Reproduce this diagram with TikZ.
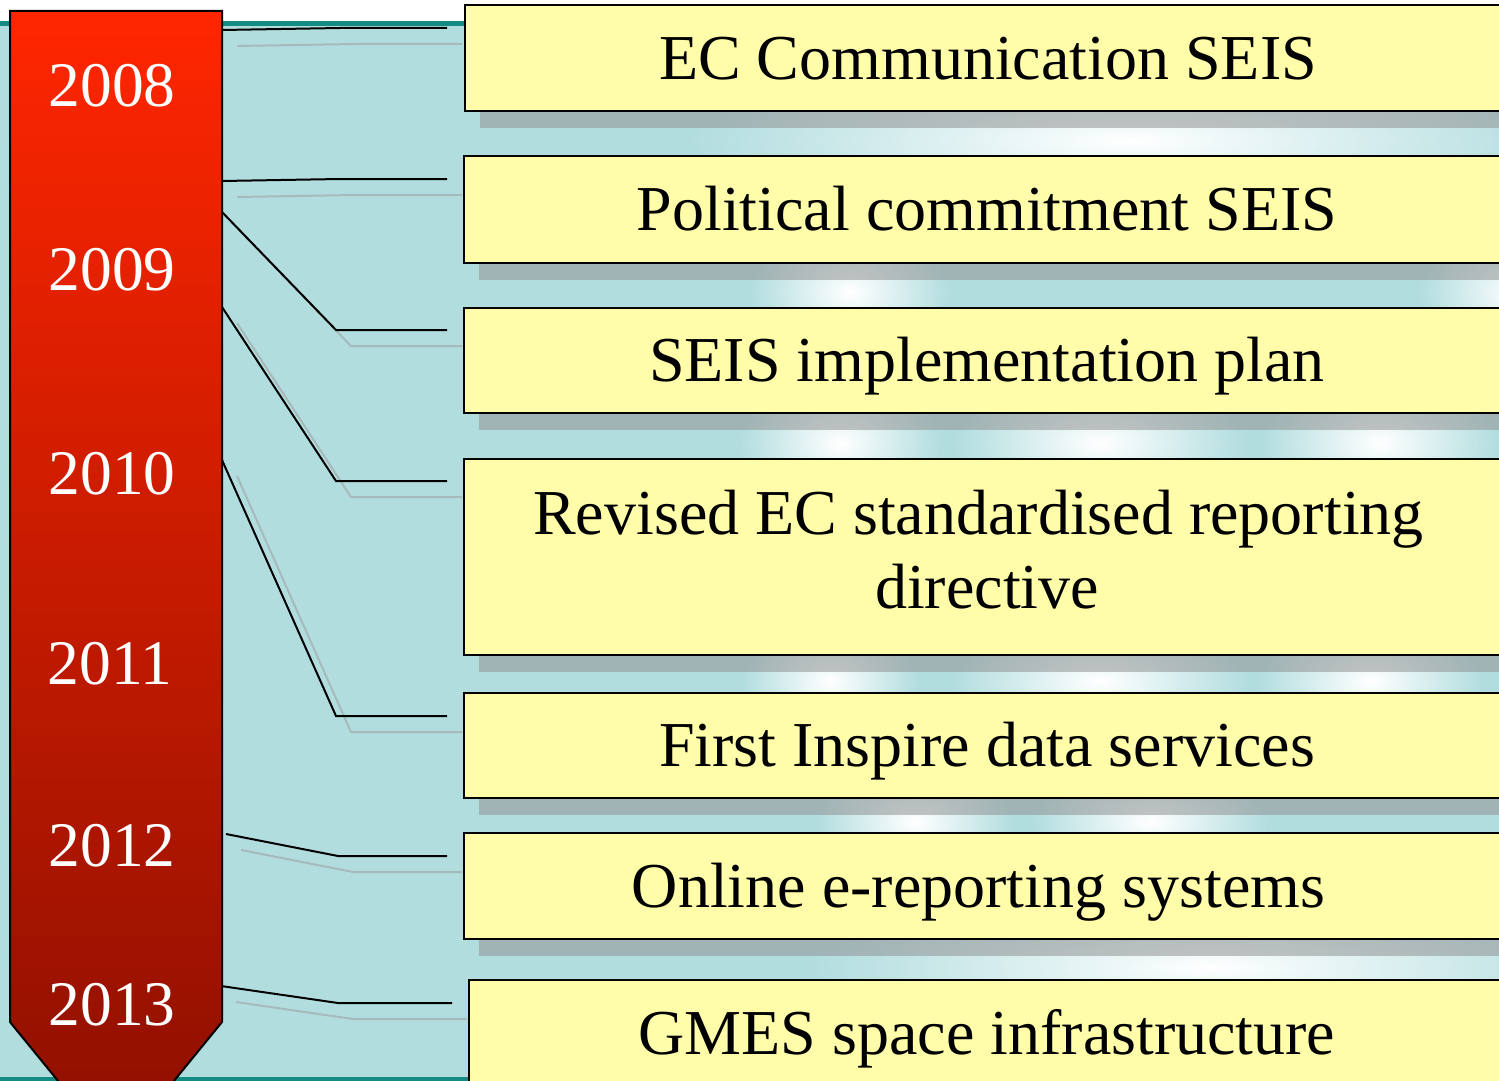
\documentclass[tikz,border=0pt]{standalone}
\usepackage{fontspec}
\setmainfont{Liberation Serif}
\usetikzlibrary{calc,shadows}
\definecolor{bgblue}{RGB}{178,221,223}
\definecolor{tealc}{RGB}{20,140,132}
\definecolor{boxy}{RGB}{255,252,170}
\definecolor{shadowc}{RGB}{146,146,146}
\definecolor{connsh}{RGB}{166,186,188}
\definecolor{barTop}{RGB}{255,38,0}
\definecolor{barBot}{RGB}{140,15,0}
\begin{document}
\begin{tikzpicture}[x=1pt,y=-1pt,
  box/.style={draw=black, line width=2pt, fill=boxy, inner sep=0pt,
    font=\fontsize{64}{74}\selectfont, text height=42pt, text depth=0pt,
    minimum width=1046pt, anchor=north west,
    drop shadow={shadow xshift=15pt, shadow yshift=-17pt, fill=shadowc, opacity=0.54}},
  year/.style={text=white, font=\fontsize{63.5}{64}\selectfont, inner sep=0pt},
  conn/.style={line width=2pt, draw=black},
  connshadow/.style={line width=2pt, draw=connsh, transform canvas={shift={(15,16)}}},
  glow/.style={inner color=white, outer color=bgblue}
]
\useasboundingbox (0,0) rectangle (1499,1081);
\clip (0,0) rectangle (1499,1081);
% background
\fill[white] (0,0) rectangle (1499,22);
\fill[bgblue] (0,22) rectangle (1499,1081);
\fill[tealc] (0,21) rectangle (1499,26);
\fill[tealc] (0,1077) rectangle (1499,1081);
% glows
\foreach \gx/\gy/\rx/\ry in {1130/141/440/80, 850/292/100/70, 1520/292/100/70,
   840/443/100/70, 1100/443/145/70, 1380/443/118/70,
   830/681/88/60, 1100/681/148/60, 1370/681/112/60,
   915/822/98/60, 1150/822/118/55, 1210/967/400/70}
  \shade[glow] (\gx,\gy) ellipse ({\rx} and {\ry});
% connector coordinates
\coordinate (s1) at (222,30);  \coordinate (k1) at (340,28);  \coordinate (e1) at (447,28);
\coordinate (s2) at (222,181); \coordinate (k2) at (340,179); \coordinate (e2) at (447,179);
\coordinate (s3) at (222,212); \coordinate (k3) at (336,330); \coordinate (e3) at (447,330);
\coordinate (s4) at (222,307); \coordinate (k4) at (336,481); \coordinate (e4) at (447,481);
\coordinate (s5) at (222,460); \coordinate (k5) at (336,716); \coordinate (e5) at (447,716);
\coordinate (s6) at (226,834); \coordinate (k6) at (338,856); \coordinate (e6) at (447,856);
\coordinate (s7) at (221,986); \coordinate (k7) at (338,1003); \coordinate (e7) at (452,1003);
% connector shadows
\foreach \i in {1,...,7}
  \draw[connshadow] (s\i) -- (k\i) -- (e\i);
% connectors
\foreach \i in {1,...,7}
  \draw[conn] (s\i) -- (k\i) -- (e\i);
% boxes
\node[box, minimum height=106pt] (b1) at (464,4) {EC Communication SEIS};
\node[box, minimum height=107pt] (b2) at (463,155) {Political commitment SEIS};
\node[box, minimum height=105pt] (b3) at (463,307) {SEIS implementation plan};
\node[box, minimum height=196pt, align=center, text height=116pt, text depth=14pt] (b4) at (463,458)
  {Revised EC standardised reporting\hspace*{17pt}\\directive};
\node[box, minimum height=105pt] (b5) at (463,692) {First Inspire data services};
\node[box, minimum height=106pt] (b6) at (463,832) {Online e-reporting systems\hspace*{17pt}};
\node[box, minimum height=106pt, minimum width=1036pt] (b7) at (468,979) {GMES space infrastructure};
% timeline bar
\shadedraw[top color=barTop, bottom color=barBot, line width=2pt, line join=miter]
  (10,11) -- (222,11) -- (222,1022) -- (116,1152) -- (10,1022) -- cycle;
\node[year] (y2008) at (112,86) {2008};
\node[year] (y2009) at (112,270) {2009};
\node[year] (y2010) at (112,474) {2010};
\node[year] (y2011) at (110,664) {2011};
\node[year] (y2012) at (112,846) {2012};
\node[year] (y2013) at (112,1005) {2013};
\end{tikzpicture}
\end{document}
